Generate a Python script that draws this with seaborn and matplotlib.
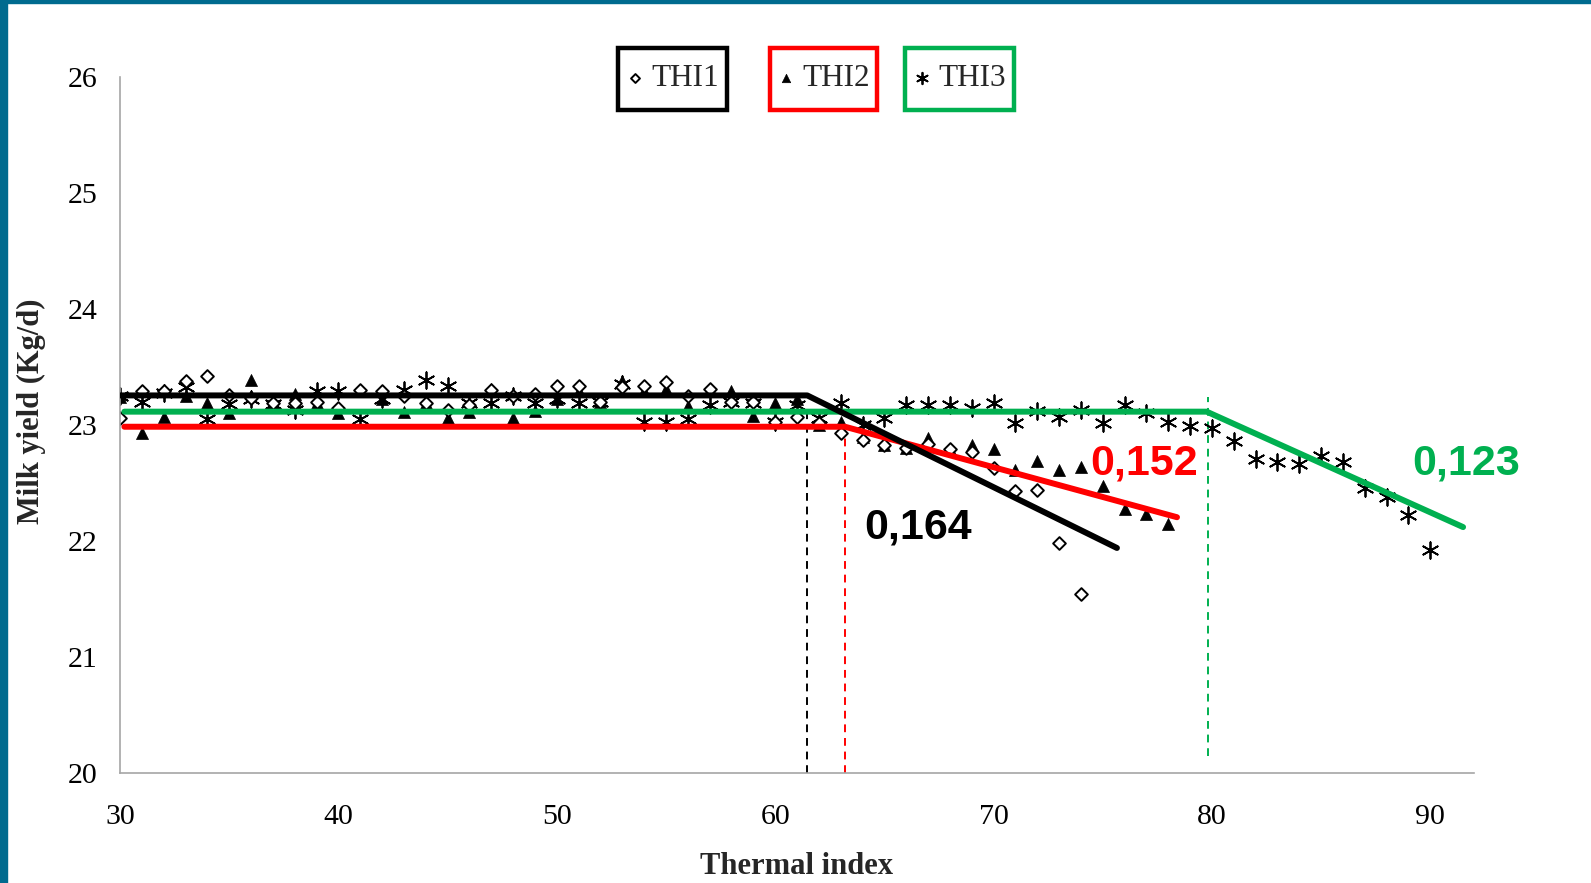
import numpy as np
import pandas as pd
import seaborn as sns
import matplotlib.pyplot as plt
from matplotlib.patches import Rectangle

# observed milk yield by thermal index value
thi1_x = list(range(30, 75))
thi1_y = [23.06, 23.29, 23.29, 23.38, 23.42, 23.26, 23.23, 23.19, 23.19, 23.20,
          23.15, 23.30, 23.29, 23.25, 23.19, 23.13, 23.17, 23.30, 23.25, 23.27,
          23.34, 23.34, 23.20, 23.33, 23.34, 23.37, 23.25, 23.31, 23.20, 23.20,
          23.03, 23.07, 23.02, 22.93, 22.87, 22.83, 22.80, 22.84, 22.79, 22.77,
          22.63, 22.43, 22.44, 21.98, 21.54]

thi2_x = list(range(30, 79))
thi2_y = [23.24, 22.93, 23.07, 23.25, 23.19, 23.10, 23.39, 23.19, 23.27, 23.19,
          23.10, 23.30, 23.22, 23.11, 23.19, 23.06, 23.11, 23.31, 23.06, 23.12,
          23.22, 23.29, 23.20, 23.38, 23.29, 23.31, 23.16, 23.31, 23.29, 23.08,
          23.19, 23.22, 23.00, 23.03, 22.90, 22.83, 22.80, 22.89, 22.79, 22.83,
          22.79, 22.61, 22.69, 22.61, 22.64, 22.47, 22.28, 22.23, 22.15]

thi3_x = list(range(30, 91))
thi3_y = [23.25, 23.20, 23.28, 23.33, 23.05, 23.18, 23.22, 23.18, 23.13, 23.29,
          23.29, 23.05, 23.22, 23.30, 23.39, 23.34, 23.19, 23.19, 23.25, 23.19,
          23.22, 23.19, 23.20, 23.35, 23.03, 23.03, 23.05, 23.17, 23.20, 23.19,
          23.03, 23.17, 23.06, 23.19, 23.00, 23.06, 23.17, 23.17, 23.17, 23.15,
          23.19, 23.02, 23.12, 23.07, 23.13, 23.02, 23.17, 23.10, 23.03, 22.99,
          22.97, 22.86, 22.71, 22.68, 22.66, 22.73, 22.68, 22.46, 22.38, 22.22,
          21.92]

# broken-line (plateau + slope) fits
fit1_x = [30.0, 61.47, 75.65]
fit1_y = [23.255, 23.255, 21.94]
fit2_x = [30.2, 63.2, 78.4]
fit2_y = [22.985, 22.985, 22.205]
fit3_x = [30.2, 79.76, 91.5]
fit3_y = [23.115, 23.115, 22.12]

# threshold markers (x, y bottom, y top)
thr_x = [61.47, 63.2, 79.8]
thr_lo = [20.0, 20.0, 20.15]
thr_hi = [23.1, 22.96, 23.245]

slopes = ["0,164", "0,152", "0,123"]
slope_x = [64.09, 74.43, 89.19]
slope_y = [22.12, 22.667, 22.667]

names = ["THI1", "THI2", "THI3"]
colors = ["black", "#ff0000", "#00b050"]

sns.set_style("white")
plt.rcParams['font.family'] = ['Liberation Serif', 'DejaVu Serif']

W, H = 1591, 883
fig = plt.figure(figsize=(W / 100, H / 100), dpi=100)
ax = fig.add_axes([120 / W, 110 / H, 1354 / W, 696 / H])

d1 = pd.DataFrame({"x": thi1_x, "y": thi1_y})
d2 = pd.DataFrame({"x": thi2_x, "y": thi2_y})
d3 = pd.DataFrame({"x": thi3_x, "y": thi3_y})

sns.scatterplot(data=d3, x="x", y="y", marker=(6, 2, 0), s=140, color="black",
                linewidth=1.3, ax=ax, label=names[2], zorder=2)
sns.scatterplot(data=d2, x="x", y="y", marker="^", s=75, color="black",
                edgecolor="black", linewidth=0.5, ax=ax, label=names[1], zorder=2)
sns.scatterplot(data=d1, x="x", y="y", marker="D", s=42, facecolor="white",
                edgecolor="black", linewidth=1.4, ax=ax, label=names[0], zorder=2)
handles, labels = ax.get_legend_handles_labels()
hmap = dict(zip(labels, handles))
ax.get_legend().remove()

for fx, fy, c in [(fit3_x, fit3_y, colors[2]), (fit2_x, fit2_y, colors[1]),
                  (fit1_x, fit1_y, colors[0])]:
    sns.lineplot(x=fx, y=fy, color=c, linewidth=4.3, ax=ax, estimator=None,
                 sort=False, zorder=3)

for x0, lo, hi, c in zip(thr_x, thr_lo, thr_hi, colors):
    ax.vlines(x0, lo, hi, colors=c, linestyles=(0, (4, 3)), linewidth=1.4, zorder=1)

for t, tx, ty, c in zip(slopes, slope_x, slope_y, colors):
    ax.text(tx, ty, t, color=c, fontsize=31, fontweight="bold",
            family=["Liberation Sans", "DejaVu Sans"], ha="left", va="center")

ax.set_xlim(30, 92)
ax.set_ylim(20, 26)
ax.set_xticks(range(30, 91, 10))
ax.set_yticks(range(20, 27))
for side in ["top", "right"]:
    ax.spines[side].set_visible(False)
for side in ["left", "bottom"]:
    ax.spines[side].set_color("#a6a6a6")
    ax.spines[side].set_linewidth(1.2)
ax.tick_params(axis="both", direction="out", length=7, width=1.2,
               color="#a6a6a6", labelsize=21.5, labelcolor="black")
ax.tick_params(axis="x", pad=15)
ax.tick_params(axis="y", pad=9)

ax.set_xlabel("Thermal index", fontsize=22, fontweight="bold")
ax.set_ylabel("Milk yield (Kg/d)", fontsize=22, fontweight="bold")
ax.xaxis.set_label_coords(0.5, -0.113)
ax.yaxis.set_label_coords(-0.055, 0.52)

# three separate legend boxes with coloured frames
boxes = [(618, 727), (770, 877), (905, 1014)]
legs = []
for name, c, (x0, x1) in zip(names, colors, boxes):
    fig.patches.append(Rectangle((x0 / W, 1 - 110 / H), (x1 - x0) / W, 62 / H,
                                 transform=fig.transFigure, facecolor="none",
                                 edgecolor=c, linewidth=3.2, zorder=5))
    leg = ax.legend(handles=[hmap[name]], labels=[name], loc="center",
                    bbox_to_anchor=((x0 + x1) / 2 / W, 1 - 79 / H),
                    bbox_transform=fig.transFigure, fontsize=22.5, frameon=False,
                    handlelength=0.55, handletextpad=0.25, borderpad=0.2,
                    borderaxespad=0, markerscale=0.7)
    legs.append(leg)
for leg in legs[:-1]:
    ax.add_artist(leg)

# slide border
fig.patches.append(Rectangle((0, 0), 7 / W, 1, transform=fig.transFigure,
                             color="#006b8f", zorder=10))
fig.patches.append(Rectangle((0, 1 - 3 / H), 1, 3 / H, transform=fig.transFigure,
                             color="#006b8f", zorder=10))

fig.savefig("out.png", dpi=100)
